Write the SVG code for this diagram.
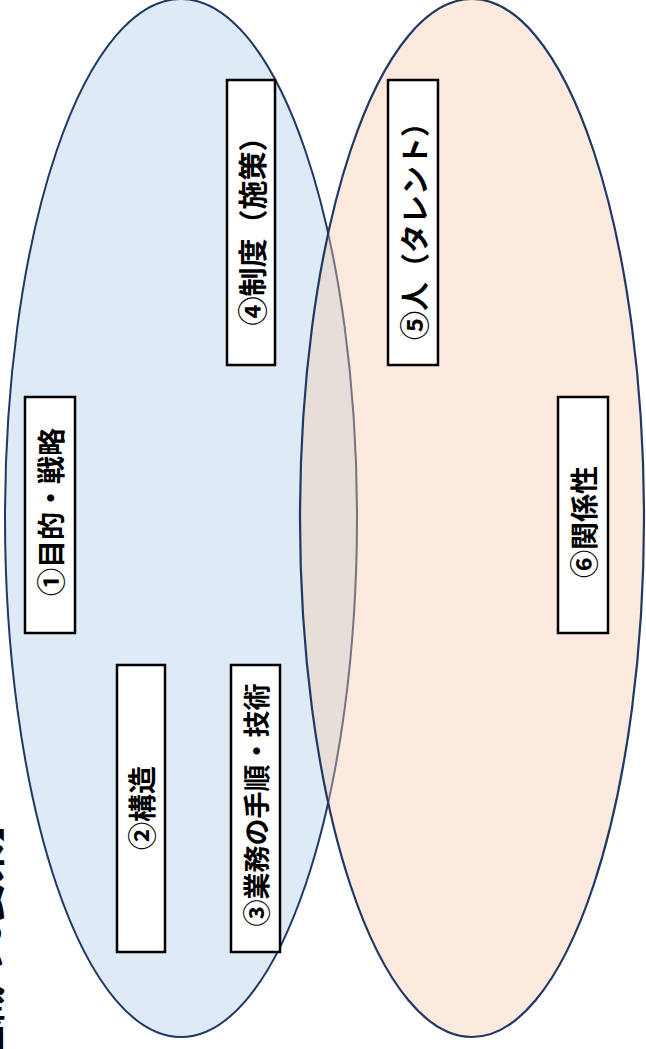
<svg xmlns="http://www.w3.org/2000/svg" width="646" height="1049" viewBox="0 0 646 1049">
  <style>
    .box{fill:#ffffff;stroke:#000000;stroke-width:2.5}
    .lbl{font-family:"Noto Sans CJK JP","Noto Sans CJK SC",sans-serif;font-weight:700;font-size:28px;fill:#000000;text-anchor:middle;dominant-baseline:central}
    .title{font-family:"Noto Sans CJK JP","Noto Sans CJK SC",sans-serif;font-weight:700;font-size:40px;fill:#000000}
  </style>
  <rect width="646" height="1049" fill="#ffffff"/>
  <g id="circles">
    <ellipse id="blue" cx="181" cy="518" rx="176" ry="519" fill="#deebf7" stroke="#1f3864" stroke-width="2"/>
    <ellipse id="orange" cx="472" cy="518" rx="172" ry="519" fill="#f8cbad" fill-opacity="0.4" stroke="#1f3864" stroke-width="2.2"/>
  </g>
  <g id="title">
    <text class="title" transform="translate(0,1106) rotate(-90)">【組織の6要素】</text>
  </g>
  <g id="node1">
    <rect class="box" x="25" y="397" width="50" height="236"/>
    <text class="lbl" transform="translate(50,512) rotate(-90)">①目的・戦略</text>
  </g>
  <g id="node2">
    <rect class="box" x="117" y="665" width="48" height="287"/>
    <text class="lbl" transform="translate(141,808) rotate(-90)">②構造</text>
  </g>
  <g id="node3">
    <rect class="box" x="231" y="665" width="49" height="287"/>
    <text class="lbl" style="font-size:27px" transform="translate(255.5,805) rotate(-90)">③業務の手順・技術</text>
  </g>
  <g id="node4">
    <rect class="box" x="227" y="80" width="48" height="285"/>
    <text class="lbl" style="font-size:29px" transform="translate(251,224) rotate(-90)">④制度（施策）</text>
  </g>
  <g id="node5">
    <rect class="box" x="388" y="80" width="50" height="285"/>
    <text class="lbl" style="font-size:29px" transform="translate(413,224) rotate(-90)">⑤人（タレント）</text>
  </g>
  <g id="node6">
    <rect class="box" x="558" y="397" width="50" height="236"/>
    <text class="lbl" transform="translate(583,522) rotate(-90)">⑥関係性</text>
  </g>
  <g id="connectors"></g>
</svg>
